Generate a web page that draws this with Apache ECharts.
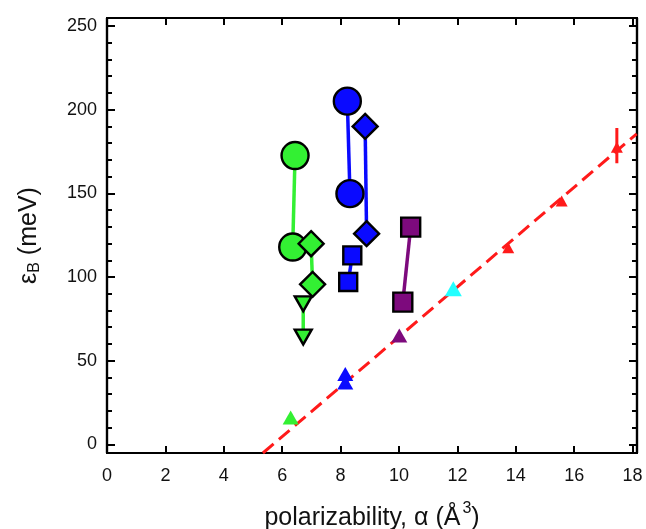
<!DOCTYPE html>
<html>
<head>
<meta charset="utf-8">
<script src="https://cdn.jsdelivr.net/npm/echarts@6/dist/echarts.min.js"></script>
<style>
  html, body { margin: 0; padding: 0; background: #fff; }
  #chart { width: 646px; height: 529px; }
</style>
</head>
<body>
<div id="chart"></div>
<script>
// Tick positions
const xTickValues = [0, 2, 4, 6, 8, 10, 12, 14, 16, 18];
const yLabelValues = [0, 50, 100, 150, 200, 250];
const yMinorValues = [0, 10, 20, 30, 40, 50, 60, 70, 80, 90, 100, 110, 120, 130, 140, 150, 160, 170, 180, 190, 200, 210, 220, 230, 240, 250];

// Binding energy vs polarizability: [alpha, epsilon_B]
const greenCircles = [[6.44, 172.6], [6.36, 117.9]];
const greenDiamonds = [[6.99, 119.9], [7.04, 95.6]];
const greenDownTriangles = [[6.72, 84.0], [6.72, 64.1]];
const blueCircles = [[8.23, 205.1], [8.32, 149.8]];
const blueDiamonds = [[8.84, 190.0], [8.89, 125.9]];
const blueSquares = [[8.40, 112.9], [8.26, 97.0]];
const purpleSquares = [[10.40, 129.8], [10.13, 85.0]];

// Points along the linear trend
const greenTriangle = [[6.29, 16.0]];
const blueTriangles = [[8.16, 42.0], [8.16, 37.0]];
const purpleTriangle = [[10.01, 65.0]];
const cyanTriangle = [[11.86, 93.0]];
const redTriangles = [[13.74, 117.5], [15.57, 145.4], [17.46, 177.6]];
const redErrorBar = [[17.46, 168.0], [17.46, 189.0]];
const trendLine = [[5.34, -5.2], [18.14, 185.6]];

const GREEN = '#33f033';
const BLUE = '#0a0aff';
const PURPLE = '#7d0a7d';
const CYAN = '#22ffff';
const RED = '#ff1a1a';
const FONT = 'Liberation Sans, Arial, sans-serif';

function pairSeries(data, color, symbol, size, rotate) {
  return {
    type: 'line',
    data: data,
    symbol: symbol,
    symbolSize: size,
    symbolRotate: rotate || 0,
    showSymbol: true,
    lineStyle: { color: color, width: 3.5 },
    itemStyle: { color: color, borderColor: '#000', borderWidth: 2.4, opacity: 1 },
    emphasis: { disabled: true },
    animation: false,
    z: 3
  };
}

function plainScatter(data, color, size, z) {
  return {
    type: 'scatter',
    data: data,
    symbol: 'triangle',
    symbolSize: size,
    itemStyle: { color: color, opacity: 1 },
    emphasis: { disabled: true },
    animation: false,
    z: z || 4
  };
}

const baseX = {
  type: 'value', min: 0, max: 18.15,
  splitLine: { show: false },
  axisLine: { show: true, onZero: false, lineStyle: { color: '#000', width: 2.2 } }
};
const baseY = {
  type: 'value', min: -5.2, max: 254.8,
  splitLine: { show: false },
  axisLine: { show: true, onZero: false, lineStyle: { color: '#000', width: 2.2 } }
};

const option = {
  backgroundColor: '#fff',
  animation: false,
  grid: { left: 107, right: 9, top: 18, bottom: 76, containLabel: false, outerBoundsMode: 'none' },
  xAxis: [
    Object.assign({}, baseX, {
      position: 'bottom',
      axisTick: { inside: true, length: 7, customValues: xTickValues, lineStyle: { color: '#000', width: 2 } },
      axisLabel: { customValues: xTickValues, color: '#111', fontSize: 18, fontFamily: FONT, margin: 14 },
      name: '{t|polarizability, α (Å}{sup|3}{t|)}',
      nameLocation: 'middle',
      nameGap: 48,
      nameTextStyle: {
        rich: {
          t: { fontSize: 25, fontFamily: FONT, color: '#111', lineHeight: 30, verticalAlign: 'bottom' },
          sup: { fontSize: 16, fontFamily: FONT, color: '#111', lineHeight: 18, verticalAlign: 'top', padding: [0, 0, 0, 2] }
        }
      }
    }),
    Object.assign({}, baseX, {
      position: 'top',
      axisTick: { inside: true, length: 7, customValues: xTickValues, lineStyle: { color: '#000', width: 2 } },
      axisLabel: { show: false }
    })
  ],
  yAxis: [
    Object.assign({}, baseY, {
      position: 'left',
      axisTick: { inside: true, length: 8, customValues: yLabelValues, lineStyle: { color: '#000', width: 2 } },
      axisLabel: { customValues: yLabelValues, color: '#111', fontSize: 18, fontFamily: FONT, margin: 10 },
      name: '{t|ε}{sub|B}{t| (meV)}',
      nameLocation: 'middle',
      nameGap: 64,
      nameTextStyle: {
        rich: {
          t: { fontSize: 25, fontFamily: FONT, color: '#111' },
          sub: { fontSize: 16, fontFamily: FONT, color: '#111', verticalAlign: 'bottom', padding: [11, 0, 0, 0] }
        }
      }
    }),
    Object.assign({}, baseY, {
      position: 'left',
      axisTick: { inside: true, length: 5, customValues: yMinorValues, lineStyle: { color: '#000', width: 2 } },
      axisLabel: { show: false }
    }),
    Object.assign({}, baseY, {
      position: 'right',
      axisTick: { inside: true, length: 8, customValues: yLabelValues, lineStyle: { color: '#000', width: 2 } },
      axisLabel: { show: false }
    }),
    Object.assign({}, baseY, {
      position: 'right',
      axisTick: { inside: true, length: 5, customValues: yMinorValues, lineStyle: { color: '#000', width: 2 } },
      axisLabel: { show: false }
    })
  ],
  series: [
    {
      type: 'line',
      data: trendLine,
      symbol: 'none',
      clip: true,
      lineStyle: { color: RED, width: 3, type: [14, 7] },
      animation: false,
      z: 2
    },
    {
      type: 'line',
      data: redErrorBar,
      symbol: 'none',
      lineStyle: { color: RED, width: 3 },
      animation: false,
      z: 2
    },
    pairSeries(greenCircles, GREEN, 'circle', 27),
    pairSeries(greenDiamonds, GREEN, 'diamond', 25),
    pairSeries(greenDownTriangles, GREEN, 'triangle', [17, 15], 180),
    pairSeries(blueCircles, BLUE, 'circle', 27),
    pairSeries(blueDiamonds, BLUE, 'diamond', 25),
    pairSeries(blueSquares, BLUE, 'rect', 18),
    pairSeries(purpleSquares, PURPLE, 'rect', 19),
    plainScatter(greenTriangle, GREEN, [16, 14]),
    plainScatter(blueTriangles, BLUE, [16, 14]),
    plainScatter(purpleTriangle, PURPLE, [16, 14]),
    plainScatter(cyanTriangle, CYAN, [17, 15]),
    plainScatter(redTriangles, RED, [12, 11])
  ]
};

const chart = echarts.init(document.getElementById('chart'), null, { renderer: 'canvas' });
chart.setOption(option);
</script>
</body>
</html>
